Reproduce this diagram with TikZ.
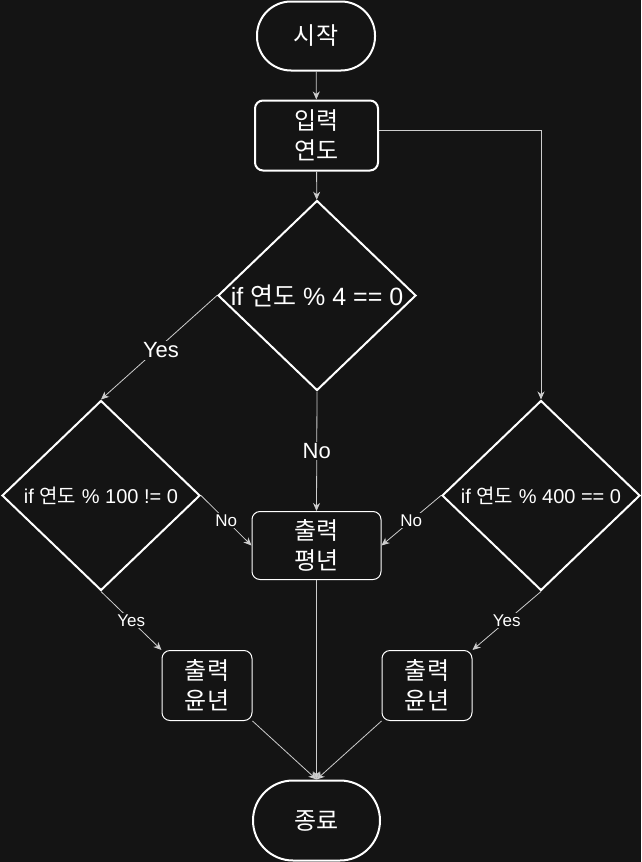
\documentclass[tikz,border=0pt]{standalone}
\usepackage{fontspec}
\setmainfont{Liberation Sans}
\newfontfamily\kr{Noto Sans CJK KR}
\usetikzlibrary{shapes.geometric,arrows.meta}
\definecolor{bg}{RGB}{20,20,20}
\definecolor{edgec}{RGB}{205,205,205}
\begin{document}
\begin{tikzpicture}[x=1pt,y=-1pt,
  term/.style={draw=white, line width=2pt, rectangle, text=white, inner sep=0pt,
    font=\kr\fontsize{24}{30}\selectfont},
  proc/.style={draw=white, line width=2pt, rectangle, rounded corners=8pt, text=white,
    inner sep=0pt, align=center, font=\kr\fontsize{24}{30}\selectfont},
  outbox/.style={proc, line width=1pt},
  dia/.style={draw=white, line width=2pt, diamond, inner sep=0pt, text=white,
    minimum width=198pt, minimum height=190pt},
  arr/.style={draw=edgec, line width=0.8pt, -{Stealth[length=8pt,width=7pt,inset=2.5pt]}},
  lab/.style={fill=bg, text=white, inner sep=1.5pt, font=\fontsize{22}{26}\selectfont},
  slab/.style={lab, font=\fontsize{17}{20}\selectfont}
]
\fill[bg] (0,0) rectangle (641,862);
\useasboundingbox (0,0) rectangle (641,862);

\node[term, minimum width=118pt, minimum height=69pt, rounded corners=34pt] (start) at (316,36) {시작};
\node[proc, minimum width=123pt, minimum height=70pt] (input) at (316.5,135.5) {입력\\연도};
\node[dia, font=\fontsize{25}{30}\selectfont] (d1) at (317,295.5) {\makebox[0pt]{if {\kr 연도} \% 4 == 0}};
\node[dia, font=\fontsize{20}{24}\selectfont] (d2) at (101,495.5) {\makebox[0pt]{if {\kr 연도} \% 100 != 0}};
\node[dia, font=\fontsize{20}{24}\selectfont] (d3) at (541,495.5) {\makebox[0pt]{if {\kr 연도} \% 400 == 0}};
\node[outbox, minimum width=129pt, minimum height=68pt] (mid) at (316.5,545.5) {출력\\평년};
\node[outbox, minimum width=90pt, minimum height=70pt] (lb) at (207,685.5) {출력\\윤년};
\node[outbox, minimum width=90pt, minimum height=70pt] (rb) at (427,685.5) {출력\\윤년};
\node[term, minimum width=127pt, minimum height=80pt, rounded corners=40pt] (end) at (316.5,820.5) {종료};

\draw[arr] (start) -- (input);
\draw[arr] (input) -- (d1);
\draw[arr] ([yshift=5pt]input.east) -| (d3.north);
\draw[arr] (d1.west) -- node[lab, pos=0.5, xshift=2pt, yshift=-3pt] {Yes} (d2.north);
\draw[arr] (d1.south) -- node[lab] {No} (mid.north);
\draw[arr] (d2.east) -- node[slab] {No} (mid.west);
\draw[arr] (d3.west) -- node[slab] {No} (mid.east);
\draw[arr] (d2.south) -- node[slab] {Yes} (lb.north west);
\draw[arr] (d3.south) -- node[slab] {Yes} (rb.north east);
\draw[arr] (lb.south east) -- (end.north);
\draw[arr] (mid.south) -- (end.north);
\draw[arr] (rb.south west) -- (end.north);
\end{tikzpicture}
\end{document}
